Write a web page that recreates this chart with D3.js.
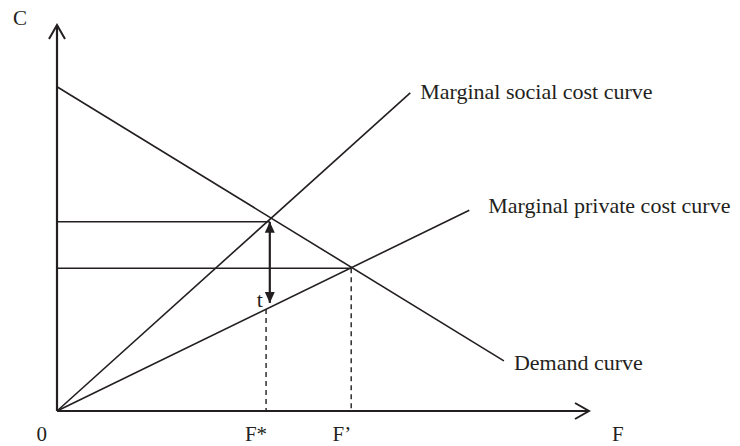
<!DOCTYPE html>
<html>
<head>
<meta charset="utf-8">
<script src="https://cdn.jsdelivr.net/npm/d3@7"></script>
<style>
body { margin: 0; background: #fff; }
text { font-family: "Liberation Serif", "DejaVu Serif", serif; fill: #231f20; }
</style>
</head>
<body>
<div id="chart"></div>
<script>
// Curve end points in (F, C) units, axes run 0..100
var demandCurve = [{f: 0, c: 84}, {f: 84, c: 13}];
var socialCostCurve = [{f: 0, c: 0}, {f: 66.4, c: 82.4}];
var privateCostCurve = [{f: 0, c: 0}, {f: 77.5, c: 52}];

// Equilibria: F* (optimum, with tax) and F' (market)
var optimum = {f: 40, c: 49};
var market = {f: 55.3, c: 37};
var optimumDrop = {f: 39.3, c: 26.4};   // dashed drop below F* (drawn a touch left of the arrow)
var taxArrowBottom = 28;

var curveNames = ['Marginal social cost curve', 'Marginal private cost curve', 'Demand curve'];
var axisNames = {x: 'F', y: 'C'};
var tickNames = {origin: '0', optimum: 'F*', market: 'F\u2019'};
var taxName = 't';

var ink = '#231f20';
var margin = {top: 25, bottom: 35, left: 57, right: 151};
var width = 740, height = 446;

var svg, xScale, yScale;

function setupChart() {
    svg = d3.select('#chart').append('svg')
        .attr('width', width)
        .attr('height', height);

    xScale = d3.scaleLinear().domain([0, 100]).range([margin.left, width - margin.right]);
    yScale = d3.scaleLinear().domain([0, 100]).range([height - margin.bottom, margin.top]);

    var defs = svg.append('defs');
    // open chevron for axis ends
    defs.append('marker')
        .attr('id', 'open-head')
        .attr('viewBox', '-16 -10 18 20')
        .attr('refX', 0).attr('refY', 0)
        .attr('markerUnits', 'userSpaceOnUse')
        .attr('markerWidth', 18).attr('markerHeight', 20)
        .attr('orient', 'auto')
        .append('path')
        .attr('d', 'M-14,-8L0,0L-14,8')
        .attr('fill', 'none')
        .attr('stroke', ink)
        .attr('stroke-width', 2);
    // solid head for the tax arrow
    defs.append('marker')
        .attr('id', 'solid-head')
        .attr('viewBox', '-12 -6 13 12')
        .attr('refX', 0).attr('refY', 0)
        .attr('markerUnits', 'userSpaceOnUse')
        .attr('markerWidth', 13).attr('markerHeight', 12)
        .attr('orient', 'auto-start-reverse')
        .append('path')
        .attr('d', 'M-11,-5L0,0L-11,5Z')
        .attr('fill', ink);
}

var lineGen = d3.line()
    .x(function(d) { return xScale(d.f); })
    .y(function(d) { return yScale(d.c); });

function drawChart() {
    // Axes
    svg.append('line')
        .attr('x1', xScale(0)).attr('y1', yScale(0))
        .attr('x2', xScale(0)).attr('y2', yScale(100))
        .attr('stroke', ink).attr('stroke-width', 2.2)
        .attr('marker-end', 'url(#open-head)');
    svg.append('line')
        .attr('x1', xScale(0)).attr('y1', yScale(0))
        .attr('x2', xScale(100)).attr('y2', yScale(0))
        .attr('stroke', ink).attr('stroke-width', 2.2)
        .attr('marker-end', 'url(#open-head)');

    // Guide lines to the C axis
    [optimum, market].forEach(function(p) {
        svg.append('line')
            .attr('x1', xScale(0)).attr('y1', yScale(p.c))
            .attr('x2', xScale(p.f)).attr('y2', yScale(p.c))
            .attr('stroke', ink).attr('stroke-width', 1.5);
    });

    // Dashed drops to the F axis
    [optimumDrop, market].forEach(function(p) {
        svg.append('line')
            .attr('x1', xScale(p.f)).attr('y1', yScale(p.c))
            .attr('x2', xScale(p.f)).attr('y2', yScale(0))
            .attr('stroke', ink).attr('stroke-width', 1.4)
            .attr('stroke-dasharray', '5,4');
    });

    // Curves
    var curves = [socialCostCurve, privateCostCurve, demandCurve];
    svg.selectAll('path.curve').data(curves).enter().append('path')
        .attr('class', 'curve')
        .attr('d', function(d) { return lineGen(d); })
        .attr('fill', 'none')
        .attr('stroke', ink)
        .attr('stroke-width', 1.6);

    // Curve labels, placed after each curve's end
    var labelOffsets = [[10, 6], [19, 3], [10, 9]];
    svg.selectAll('text.curve-label').data(curves).enter().append('text')
        .attr('class', 'curve-label')
        .attr('x', function(d, i) { return xScale(d[1].f) + labelOffsets[i][0]; })
        .attr('y', function(d, i) { return yScale(d[1].c) + labelOffsets[i][1]; })
        .attr('font-size', 22)
        .text(function(d, i) { return curveNames[i]; });

    // Tax arrow
    svg.append('line')
        .attr('x1', xScale(optimum.f)).attr('y1', yScale(optimum.c))
        .attr('x2', xScale(optimum.f)).attr('y2', yScale(taxArrowBottom))
        .attr('stroke', ink).attr('stroke-width', 2.2)
        .attr('marker-start', 'url(#solid-head)')
        .attr('marker-end', 'url(#solid-head)');
    svg.append('text')
        .attr('x', xScale(optimum.f) - 7)
        .attr('y', yScale(taxArrowBottom) + 4)
        .attr('text-anchor', 'end')
        .attr('font-size', 22)
        .text(taxName);

    // Axis names and tick names
    svg.append('text')
        .attr('x', xScale(0) - 44).attr('y', yScale(100))
        .attr('font-size', 21)
        .text(axisNames.y);
    svg.append('text')
        .attr('x', xScale(100) + 23).attr('y', yScale(0) + 30)
        .attr('font-size', 21)
        .text(axisNames.x);
    svg.append('text')
        .attr('x', xScale(0) - 10).attr('y', yScale(0) + 30)
        .attr('text-anchor', 'end')
        .attr('font-size', 21)
        .text(tickNames.origin);
    svg.append('text')
        .attr('x', xScale(optimumDrop.f) + 1).attr('y', yScale(0) + 30)
        .attr('text-anchor', 'end')
        .attr('font-size', 21)
        .text(tickNames.optimum);
    svg.append('text')
        .attr('x', xScale(market.f)).attr('y', yScale(0) + 30)
        .attr('text-anchor', 'end')
        .attr('font-size', 21)
        .text(tickNames.market);
}

setupChart();
drawChart();
</script>
</body>
</html>
